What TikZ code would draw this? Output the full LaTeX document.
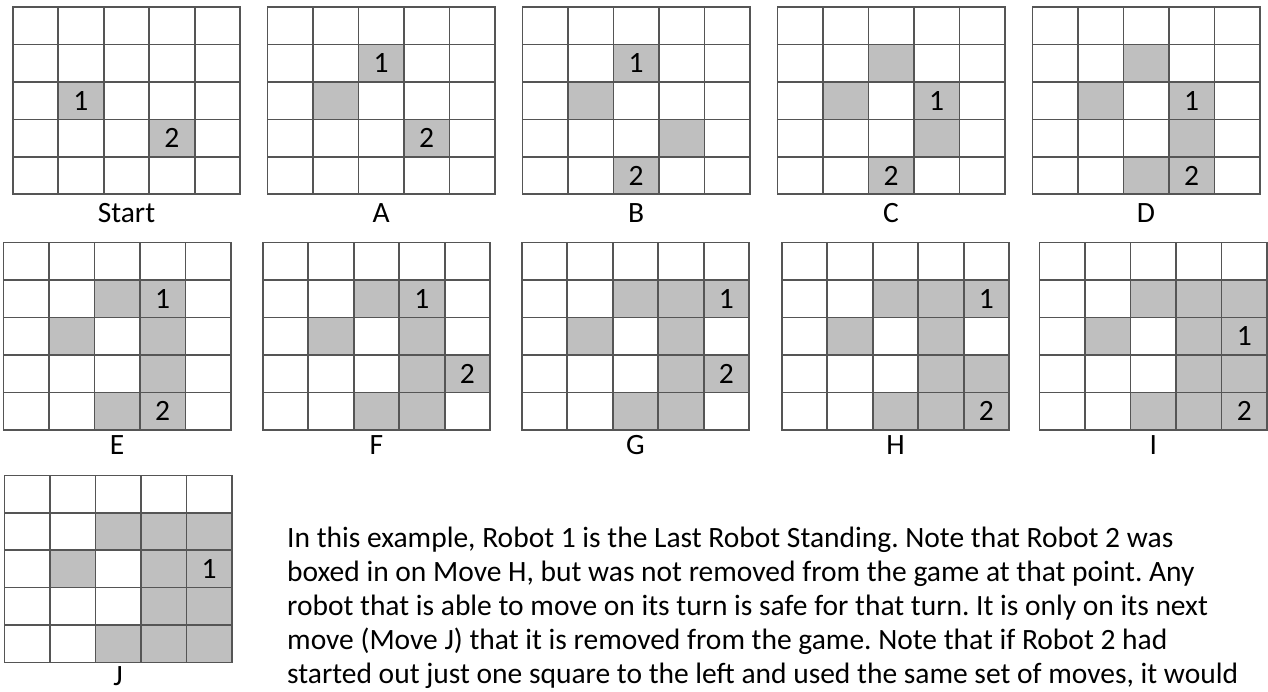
\documentclass[tikz,border=0pt]{standalone}
\usepackage{fontspec}
\setmainfont{Carlito}
\usepackage{tikz}
\usetikzlibrary{positioning}

\definecolor{gridgray}{RGB}{85,85,85}
\definecolor{takengray}{RGB}{191,191,191}
\newcommand{\cellw}{45.5}
\newcommand{\cellh}{37.4}
\frenchspacing

\begin{document}
\begin{tikzpicture}[
  x=1pt, y=-1pt,
  font=\fontsize{29.5}{33.8}\selectfont,
  gridline/.style={line width=1.6pt, draw=gridgray, line cap=rect},
  taken/.style={fill=takengray},
  robot/.style={inner sep=0pt},
  caption/.style={anchor=base, inner sep=0pt},
]
\useasboundingbox (0,0) rectangle (1268,692);

% --- Start ---
\begin{scope}[shift={(12.7,7.3)}]
  \foreach \c/\r in {1/2, 3/3}
    \fill[taken] (\c*\cellw, \r*\cellh) rectangle ++(\cellw, \cellh);
  \node[robot] (start1) at (1.5*\cellw, 2.5*\cellh) {1};
  \node[robot] (start2) at (3.5*\cellw, 3.5*\cellh) {2};
\end{scope}

% --- Move A ---
\begin{scope}[shift={(267.3,7.3)}]
  \foreach \c/\r in {2/1, 1/2, 3/3}
    \fill[taken] (\c*\cellw, \r*\cellh) rectangle ++(\cellw, \cellh);
  \node[robot] (a1) at (2.5*\cellw, 1.5*\cellh) {1};
  \node[robot] (a2) at (3.5*\cellw, 3.5*\cellh) {2};
\end{scope}

% --- Move B ---
\begin{scope}[shift={(522.3,7.3)}]
  \foreach \c/\r in {2/1, 1/2, 3/3, 2/4}
    \fill[taken] (\c*\cellw, \r*\cellh) rectangle ++(\cellw, \cellh);
  \node[robot] (b1) at (2.5*\cellw, 1.5*\cellh) {1};
  \node[robot] (b2) at (2.5*\cellw, 4.5*\cellh) {2};
\end{scope}

% --- Move C ---
\begin{scope}[shift={(777.3,7.3)}]
  \foreach \c/\r in {2/1, 1/2, 3/2, 3/3, 2/4}
    \fill[taken] (\c*\cellw, \r*\cellh) rectangle ++(\cellw, \cellh);
  \node[robot] (c1) at (3.5*\cellw, 2.5*\cellh) {1};
  \node[robot] (c2) at (2.5*\cellw, 4.5*\cellh) {2};
\end{scope}

% --- Move D ---
\begin{scope}[shift={(1032.3,7.3)}]
  \foreach \c/\r in {2/1, 1/2, 3/2, 3/3, 2/4, 3/4}
    \fill[taken] (\c*\cellw, \r*\cellh) rectangle ++(\cellw, \cellh);
  \node[robot] (d1) at (3.5*\cellw, 2.5*\cellh) {1};
  \node[robot] (d2) at (3.5*\cellw, 4.5*\cellh) {2};
\end{scope}

% --- Move E ---
\begin{scope}[shift={(3.3,242.7)}]
  \foreach \c/\r in {2/1, 3/1, 1/2, 3/2, 3/3, 2/4, 3/4}
    \fill[taken] (\c*\cellw, \r*\cellh) rectangle ++(\cellw, \cellh);
  \node[robot] (e1) at (3.5*\cellw, 1.5*\cellh) {1};
  \node[robot] (e2) at (3.5*\cellw, 4.5*\cellh) {2};
\end{scope}

% --- Move F ---
\begin{scope}[shift={(262.7,242.7)}]
  \foreach \c/\r in {2/1, 3/1, 1/2, 3/2, 3/3, 4/3, 2/4, 3/4}
    \fill[taken] (\c*\cellw, \r*\cellh) rectangle ++(\cellw, \cellh);
  \node[robot] (f1) at (3.5*\cellw, 1.5*\cellh) {1};
  \node[robot] (f2) at (4.5*\cellw, 3.5*\cellh) {2};
\end{scope}

% --- Move G ---
\begin{scope}[shift={(521.7,242.7)}]
  \foreach \c/\r in {2/1, 3/1, 4/1, 1/2, 3/2, 3/3, 4/3, 2/4, 3/4}
    \fill[taken] (\c*\cellw, \r*\cellh) rectangle ++(\cellw, \cellh);
  \node[robot] (g1) at (4.5*\cellw, 1.5*\cellh) {1};
  \node[robot] (g2) at (4.5*\cellw, 3.5*\cellh) {2};
\end{scope}

% --- Move H: robot 2 boxed in ---
\begin{scope}[shift={(781.7,242.7)}]
  \foreach \c/\r in {2/1, 3/1, 4/1, 1/2, 3/2, 3/3, 4/3, 2/4, 3/4, 4/4}
    \fill[taken] (\c*\cellw, \r*\cellh) rectangle ++(\cellw, \cellh);
  \node[robot] (h1) at (4.5*\cellw, 1.5*\cellh) {1};
  \node[robot] (h2) at (4.5*\cellw, 4.5*\cellh) {2};
\end{scope}

% --- Move I ---
\begin{scope}[shift={(1039.5,242.7)}]
  \foreach \c/\r in {2/1, 3/1, 4/1, 1/2, 3/2, 4/2, 3/3, 4/3, 2/4, 3/4, 4/4}
    \fill[taken] (\c*\cellw, \r*\cellh) rectangle ++(\cellw, \cellh);
  \node[robot] (i1) at (4.5*\cellw, 2.5*\cellh) {1};
  \node[robot] (i2) at (4.5*\cellw, 4.5*\cellh) {2};
\end{scope}

% --- Move J: robot 2 removed ---
\begin{scope}[shift={(4.3,475.3)}]
  \foreach \c/\r in {2/1, 3/1, 4/1, 1/2, 3/2, 4/2, 3/3, 4/3, 2/4, 3/4, 4/4}
    \fill[taken] (\c*\cellw, \r*\cellh) rectangle ++(\cellw, \cellh);
  \node[robot] (j1) at (4.5*\cellw, 2.5*\cellh) {1};
\end{scope}

% --- grid lines and captions ---
\foreach \gx/\gy/\name/\txt/\cy in {12.7/7.3/start/Start/215, 267.3/7.3/a/A/215,
    522.3/7.3/b/B/215, 777.3/7.3/c/C/215, 1032.3/7.3/d/D/215,
    3.3/242.7/e/E/212, 262.7/242.7/f/F/212, 521.7/242.7/g/G/212,
    781.7/242.7/h/H/212, 1039.5/242.7/i/I/212, 4.3/475.3/j/J/210} {
  \begin{scope}[shift={(\gx,\gy)}]
    \foreach \k in {0,...,5} {
      \draw[gridline] (\k*\cellw, 0) -- (\k*\cellw, 5*\cellh);
      \draw[gridline] (0, \k*\cellh) -- (5*\cellw, \k*\cellh);
    }
    \node[caption] (cap-\name) at (2.5*\cellw, \cy) {\txt};
  \end{scope}
}

% --- explanation (base anchor sits on the last line) ---
\node[anchor=base west, align=left, inner sep=0pt] (note) at (287, 683)
  {In this example, Robot 1 is the Last Robot Standing. Note that Robot 2 was\\
   boxed in on Move H, but was not removed from the game at that point. Any\\
   robot that is able to move on its turn is safe for that turn. It is only on its next\\
   move (Move J) that it is removed from the game. Note that if Robot 2 had\\
   started out just one square to the left and used the same set of moves, it would};

\end{tikzpicture}
\end{document}
